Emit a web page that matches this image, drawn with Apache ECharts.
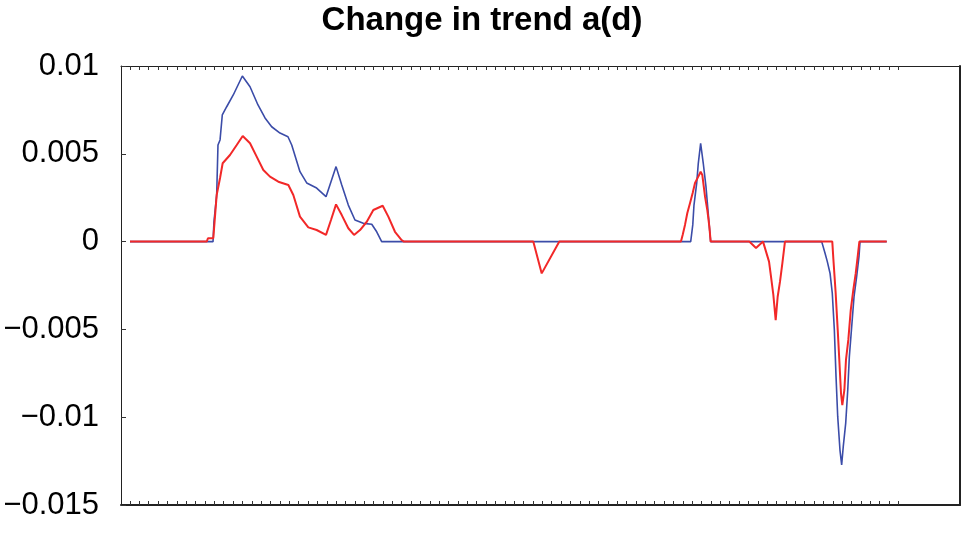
<!DOCTYPE html>
<html>
<head>
<meta charset="utf-8">
<script src="https://cdn.jsdelivr.net/npm/echarts@6/dist/echarts.min.js"></script>
<style>
html,body{margin:0;padding:0;background:#fff;}
#chart{width:964px;height:533px;}
</style>
</head>
<body>
<div id="chart"></div>
<script>
// Title and axis text
var chartTitle = "Change in trend a(d)";
var yTickValues = [-0.015, -0.01, -0.005, 0, 0.005, 0.01];
var yTickLabels = ["\u22120.015", "\u22120.01", "\u22120.005", "0", "0.005", "0.01"];
var xTickCount = 83; // minor x ticks, 0..82

// Blue series [x, value]
var blueSeries = [
  [0, 0], [8.86, 0], [8.96, 0.00113], [9.25, 0.00265], [9.39, 0.0055], [9.61, 0.00579],
  [9.85, 0.00721], [10.32, 0.00768], [11.02, 0.00835], [11.99, 0.00943], [12.81, 0.00882],
  [13.66, 0.00778], [14.41, 0.00704], [15.12, 0.00654], [16.01, 0.00618], [16.86, 0.00597],
  [17.26, 0.0055], [18.14, 0.00398], [18.86, 0.00334], [19.92, 0.00305], [20.92, 0.00256],
  [21.45, 0.00341], [21.99, 0.00427], [22.6, 0.00322], [23.3, 0.00208], [24.01, 0.00123],
  [24.9, 0.00104], [25.8, 0.00099], [26.33, 0.00056], [26.86, 0],
  [59.84, 0], [60.06, 0.00095], [60.19, 0.00208], [60.48, 0.00333], [60.65, 0.00446],
  [60.9, 0.0056], [61.18, 0.00446], [61.47, 0.00313], [61.65, 0.00199], [61.83, 0.00085],
  [61.97, 0],
  [73.82, 0], [74.17, -0.00065], [74.42, -0.00114], [74.71, -0.0018], [74.95, -0.00294],
  [75.17, -0.00503], [75.35, -0.00769], [75.53, -0.00997], [75.77, -0.01187], [75.95, -0.01272],
  [76.12, -0.01168], [76.38, -0.01035], [76.6, -0.00845], [76.77, -0.00655], [77.02, -0.00485],
  [77.27, -0.00314], [77.55, -0.002], [77.8, -0.00086], [77.91, 0], [80.76, 0]
];

// Red series [x, value]
var redSeries = [
  [0, 0], [8.19, 0], [8.32, 0.00019], [8.89, 0.00019], [9.25, 0.00265], [9.61, 0.00362],
  [9.89, 0.00446], [10.67, 0.00493], [11.39, 0.0055], [12.03, 0.00601], [12.81, 0.0056],
  [13.52, 0.00484], [14.23, 0.00408], [14.94, 0.0037], [15.83, 0.00341], [16.9, 0.00322],
  [17.43, 0.00265], [18.14, 0.00142], [19.03, 0.00081], [19.92, 0.00066], [20.92, 0.00038],
  [21.45, 0.00123], [21.99, 0.00212], [22.6, 0.00151], [23.3, 0.00076], [23.91, 0.00038],
  [24.55, 0.00066], [25.27, 0.00113], [25.97, 0.0018], [26.97, 0.00204], [27.57, 0.00142],
  [28.28, 0.00056], [28.99, 0.00009], [29.24, 0],
  [43.04, 0], [43.94, -0.00181], [45.82, 0],
  [58.8, 0], [58.98, 0.00038], [59.23, 0.00095], [59.48, 0.00163], [59.77, 0.0022],
  [60.05, 0.00277], [60.3, 0.00334], [60.65, 0.0037], [60.9, 0.00398], [61.08, 0.00379],
  [61.37, 0.00256], [61.61, 0.0018], [61.83, 0.00085], [61.97, 0],
  [66.09, 0], [66.81, -0.00036], [67.56, 0],
  [67.77, 0], [68.2, -0.00114], [68.41, -0.002], [68.66, -0.00304], [68.91, -0.00447],
  [69.12, -0.00314], [69.37, -0.00228], [69.62, -0.00124], [69.9, 0],
  [74.95, 0], [75.06, -0.00095], [75.31, -0.00293], [75.53, -0.00503], [75.7, -0.00674],
  [75.88, -0.00864], [76.02, -0.00931], [76.24, -0.00845], [76.41, -0.00674], [76.66, -0.0056],
  [76.92, -0.0039], [77.19, -0.00276], [77.45, -0.00181], [77.66, -0.00086], [77.84, 0], [80.76, 0]
];

var xTicks = [];
for (var i = 0; i < xTickCount; i++) xTicks.push(i);

var FONT = "'Liberation Sans', Arial, Helvetica, sans-serif";
var xMin = -0.96, xMax = 88.58;

function labelFor(v) {
  for (var i = 0; i < yTickValues.length; i++) {
    if (Math.abs(yTickValues[i] - v) < 1e-9) return yTickLabels[i];
  }
  return '';
}

var chart = echarts.init(document.getElementById('chart'), null, {renderer: 'canvas'});
chart.setOption({
  animation: false,
  backgroundColor: '#ffffff',
  title: {
    text: chartTitle,
    left: 'center',
    top: 4,
    padding: [0, 0, 0, 22],
    textStyle: {fontFamily: FONT, fontWeight: 'bold', fontSize: 33, color: '#000'}
  },
  grid: {left: 121, right: 4, top: 66, bottom: 28, containLabel: false},
  xAxis: [
    {
      type: 'value', position: 'bottom', min: xMin, max: xMax,
      axisLine: {show: true, onZero: false, lineStyle: {color: '#222', width: 2}},
      axisTick: {show: true, inside: true, length: 4, customValues: xTicks, lineStyle: {color: '#333', width: 1}},
      axisLabel: {show: false},
      splitLine: {show: false}
    },
    {
      type: 'value', position: 'top', min: xMin, max: xMax,
      axisLine: {show: true, onZero: false, lineStyle: {color: '#222', width: 1}},
      axisTick: {show: true, inside: true, length: 4, customValues: xTicks, lineStyle: {color: '#333', width: 1}},
      axisLabel: {show: false},
      splitLine: {show: false}
    }
  ],
  yAxis: [
    {
      type: 'value', position: 'left', min: -0.015, max: 0.01, interval: 0.005,
      axisLine: {show: true, onZero: false, lineStyle: {color: '#222', width: 1}},
      axisTick: {show: true, inside: true, length: 5, lineStyle: {color: '#333'}},
      axisLabel: {show: true, margin: 22, fontFamily: FONT, fontSize: 31, color: '#000',
        formatter: function (v) { return labelFor(v); }},
      splitLine: {show: false}
    },
    {
      type: 'value', position: 'right', min: -0.015, max: 0.01, interval: 0.005,
      axisLine: {show: true, onZero: false, lineStyle: {color: '#222', width: 2}},
      axisTick: {show: false},
      axisLabel: {show: false},
      splitLine: {show: false}
    }
  ],
  series: [
    {
      type: 'line', name: 'blue', data: blueSeries, xAxisIndex: 0, yAxisIndex: 0,
      showSymbol: false, symbol: 'none', z: 2,
      lineStyle: {color: '#3b4ca8', width: 1.6}, itemStyle: {color: '#3b4ca8'}
    },
    {
      type: 'line', name: 'red', data: redSeries, xAxisIndex: 0, yAxisIndex: 0,
      showSymbol: false, symbol: 'none', z: 3,
      lineStyle: {color: '#f22828', width: 2}, itemStyle: {color: '#f22828'}
    }
  ]
});
</script>
</body>
</html>
